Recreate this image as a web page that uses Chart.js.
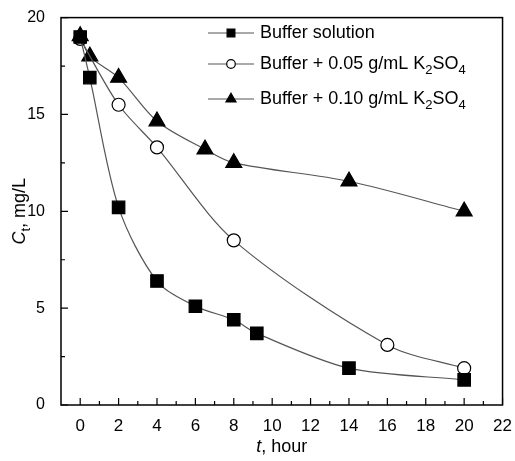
<!DOCTYPE html>
<html>
<head>
<meta charset="utf-8">
<script src="https://cdn.jsdelivr.net/npm/chart.js@4"></script>
<style>
  body { margin: 0; background: #fff; }
  #wrap { width: 515px; height: 461px; }
</style>
</head>
<body>
<div id="wrap"><canvas id="ctChart" width="515" height="461"></canvas></div>
<script>
// 時間 (hour) と濃度 Ct (mg/L)
const tBuffer = [0, 0.5, 2, 4, 6, 8, 9.2, 14, 20];
const cBuffer = [19.0, 16.9, 10.2, 6.4, 5.1, 4.4, 3.7, 1.9, 1.3];
const tK005 = [0, 2, 4, 8, 16, 20];
const cK005 = [18.9, 15.5, 13.3, 8.5, 3.1, 1.9];
const tK010 = [0, 0.5, 2, 4, 6.5, 8, 14, 20];
const cK010 = [19.05, 18.0, 16.9, 14.65, 13.2, 12.5, 11.55, 10.0];
const xTicks = [0, 2, 4, 6, 8, 10, 12, 14, 16, 18, 20, 22];
const yTicks = [0, 5, 10, 15, 20];
const legendLabels = [
  [['Buffer solution', '']],
  [['Buffer + 0.05 g/mL K', ''], ['2', 'sub'], ['SO', ''], ['4', 'sub']],
  [['Buffer + 0.10 g/mL K', ''], ['2', 'sub'], ['SO', ''], ['4', 'sub']]
];

const FONT = '"Liberation Sans", Arial, sans-serif';
const pts = (xs, ys) => xs.map((x, i) => ({ x: x, y: ys[i] }));

const lineStyle = {
  showLine: true,
  borderColor: '#555',
  borderWidth: 1.2,
  tension: 0.3,
  pointBorderColor: '#000',
  pointBorderWidth: 1.2
};

// 凡例マーカーの大きさ
const legendRadius = { rect: 5.5, circle: 4.3, triangle: 5.8 };

// 枠・内向き目盛り・凡例・軸タイトルを描くプラグイン
const decor = {
  id: 'decor',
  afterDraw(chart) {
    const c = chart.ctx, a = chart.chartArea;
    const xs = chart.scales.x, ys = chart.scales.y;
    c.save();
    c.strokeStyle = '#000';
    c.lineWidth = 1.5;
    c.strokeRect(a.left, a.top, a.right - a.left, a.bottom - a.top);
    c.lineWidth = 1.2;
    c.beginPath();
    for (let v = 0; v <= 22; v += 1) {
      const px = xs.getPixelForValue(v);
      const len = v % 2 === 0 ? 7 : 4;
      c.moveTo(px, a.bottom); c.lineTo(px, a.bottom - len);
    }
    for (let v = 0; v <= 20; v += 2.5) {
      const py = ys.getPixelForValue(v);
      const len = v % 5 === 0 ? 7 : 4;
      c.moveTo(a.left, py); c.lineTo(a.left + len, py);
    }
    c.stroke();

    // 凡例
    const rowsY = [33, 64, 99];
    chart.data.datasets.forEach((ds, i) => {
      const y = rowsY[i];
      c.strokeStyle = '#555';
      c.lineWidth = 1.2;
      c.beginPath(); c.moveTo(208, y); c.lineTo(254, y); c.stroke();
      c.strokeStyle = '#000';
      c.fillStyle = ds.pointBackgroundColor;
      c.lineWidth = 1.2;
      Chart.helpers.drawPoint(c, { pointStyle: ds.pointStyle, radius: legendRadius[ds.pointStyle], rotation: 0, borderWidth: 1.2 }, 231, y);
      let x = 260;
      c.fillStyle = '#000';
      c.textBaseline = 'middle';
      legendLabels[i].forEach(([txt, kind]) => {
        if (kind === 'sub') {
          c.font = '13px ' + FONT;
          c.fillText(txt, x, y + 6);
        } else {
          c.font = '18px ' + FONT;
          c.fillText(txt, x, y);
        }
        x += c.measureText(txt).width;
      });
    });

    // x 軸タイトル
    c.textBaseline = 'alphabetic';
    c.font = 'italic 18px ' + FONT;
    const tW = c.measureText('t').width;
    c.font = '18px ' + FONT;
    const restW = c.measureText(', hour').width;
    let sx = (a.left + a.right) / 2 - (tW + restW) / 2;
    c.font = 'italic 18px ' + FONT;
    c.fillText('t', sx, 452);
    c.font = '18px ' + FONT;
    c.fillText(', hour', sx + tW, 452);

    // y 軸タイトル
    c.translate(25, (a.top + a.bottom) / 2);
    c.rotate(-Math.PI / 2);
    c.font = 'italic 18px ' + FONT;
    const cW = c.measureText('C').width;
    c.font = '13px ' + FONT;
    const subW = c.measureText('t').width;
    c.font = '18px ' + FONT;
    const unitW = c.measureText(', mg/L').width;
    let ox = -(cW + subW + unitW) / 2;
    c.font = 'italic 18px ' + FONT;
    c.fillText('C', ox, 0);
    c.font = '13px ' + FONT;
    c.fillText('t', ox + cW, 5);
    c.font = '18px ' + FONT;
    c.fillText(', mg/L', ox + cW + subW, 0);
    c.restore();
  }
};

const ctx = document.getElementById('ctChart').getContext('2d');
const ctChart = new Chart(ctx, {
  type: 'scatter',
  data: {
    datasets: [
      Object.assign({}, lineStyle, {
        label: 'Buffer solution',
        data: pts(tBuffer, cBuffer),
        pointStyle: 'rect',
        pointRadius: 8.8,
        pointBackgroundColor: '#000'
      }),
      Object.assign({}, lineStyle, {
        label: 'Buffer + 0.05 g/mL K2SO4',
        data: pts(tK005, cK005),
        pointStyle: 'circle',
        pointRadius: 6.5,
        pointBackgroundColor: '#fff'
      }),
      Object.assign({}, lineStyle, {
        label: 'Buffer + 0.10 g/mL K2SO4',
        data: pts(tK010, cK010),
        pointStyle: 'triangle',
        pointRadius: 9.2,
        pointBackgroundColor: '#000'
      })
    ]
  },
  options: {
    responsive: false,
    animation: false,
    layout: { padding: { top: 11, right: 10, left: 0, bottom: 0 } },
    plugins: { legend: { display: false }, tooltip: { enabled: false } },
    scales: {
      x: {
        type: 'linear', min: -1, max: 22,
        grid: { display: false },
        border: { display: false },
        afterBuildTicks: s => { s.ticks = xTicks.map(v => ({ value: v })); },
        afterFit: s => { s.height = 56; },
        ticks: { color: '#000', font: { family: FONT, size: 17 }, padding: 3, maxRotation: 0, autoSkip: false }
      },
      y: {
        min: 0, max: 20,
        grid: { display: false },
        border: { display: false },
        afterBuildTicks: s => { s.ticks = yTicks.map(v => ({ value: v })); },
        afterFit: s => { s.width = 61; },
        ticks: { color: '#000', font: { family: FONT, size: 16 }, padding: 8 }
      }
    }
  },
  plugins: [decor]
});
</script>
</body>
</html>
